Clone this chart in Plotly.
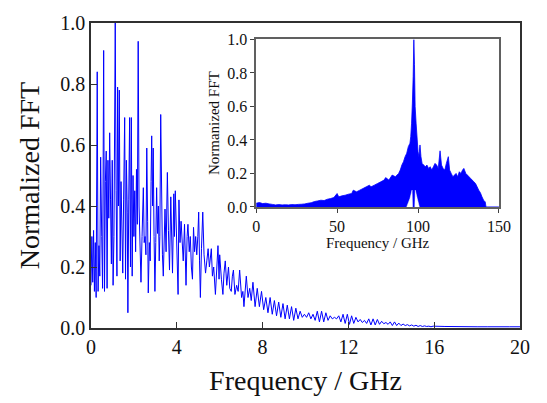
import plotly.graph_objects as go

# ---------------- main spectrum (0-20 GHz) ----------------
main_freq = [
    0.00, 0.04, 0.08, 0.12, 0.16, 0.20, 0.24, 0.29, 0.33, 0.37, 0.41, 0.45, 0.50, 0.54, 0.59, 0.63,
    0.67, 0.71, 0.75, 0.79, 0.83, 0.87, 0.91, 0.95, 0.99, 1.03, 1.07, 1.13, 1.17, 1.21, 1.24, 1.28,
    1.32, 1.36, 1.40, 1.44, 1.48, 1.52, 1.57, 1.61, 1.65, 1.69, 1.72, 1.76, 1.80, 1.84, 1.88, 1.92,
    1.96, 2.00, 2.04, 2.08, 2.12, 2.16, 2.20, 2.24, 2.28, 2.33, 2.38, 2.44, 2.48, 2.52, 2.56, 2.60,
    2.64, 2.67, 2.72, 2.76, 2.80, 2.83, 2.87, 2.90, 2.94, 2.98, 3.02, 3.06, 3.10, 3.14, 3.18, 3.21,
    3.25, 3.29, 3.33, 3.37, 3.41, 3.45, 3.50, 3.56, 3.61, 3.66, 3.72, 3.76, 3.80, 3.86, 3.89, 3.93,
    3.98, 4.03, 4.06, 4.10, 4.15, 4.20, 4.24, 4.30, 4.36, 4.43, 4.48, 4.52, 4.58, 4.63, 4.68, 4.73,
    4.78, 4.83, 4.88, 4.93, 4.98, 5.02, 5.06, 5.10, 5.15, 5.21, 5.27, 5.34, 5.40, 5.46, 5.52, 5.56,
    5.61, 5.66, 5.72, 5.80, 5.86, 5.92, 5.97, 6.00, 6.08, 6.15, 6.20, 6.26, 6.33, 6.41, 6.47, 6.54,
    6.59, 6.64, 6.71, 6.79, 6.86, 6.93, 7.02, 7.08, 7.13, 7.19, 7.24, 7.32, 7.40, 7.47, 7.55,
    7.65, 7.75, 7.85, 7.95, 8.05, 8.15, 8.25, 8.35, 8.45, 8.55, 8.65, 8.75, 8.85, 8.95,
    9.05, 9.15, 9.25, 9.35, 9.45, 9.55, 9.65, 9.75, 9.85, 9.95,
    10.05, 10.15, 10.25, 10.35, 10.45, 10.55, 10.65, 10.75, 10.85, 10.95,
    11.05, 11.15, 11.25, 11.35, 11.45, 11.55, 11.65, 11.75, 11.85, 11.95,
    12.05, 12.15, 12.25, 12.35, 12.45, 12.55, 12.65, 12.75, 12.85, 12.95,
    13.05, 13.15, 13.25, 13.35, 13.45, 13.55, 13.65, 13.75, 13.85, 13.95,
    14.05, 14.15, 14.25, 14.35, 14.45, 14.55, 14.65, 14.75, 14.85, 14.95,
    15.05, 15.15, 15.25, 15.35, 15.45, 15.55, 15.65, 15.75, 15.85, 15.95,
    16.5, 17.0, 17.5, 18.0, 18.5, 19.0, 19.5, 20.0,
]
main_fft = [
    0.14, 0.30, 0.15, 0.32, 0.12, 0.28, 0.10, 0.84, 0.12, 0.27, 0.17, 0.56, 0.30, 0.13, 0.91, 0.12,
    0.48, 0.58, 0.13, 0.55, 0.36, 0.64, 0.42, 0.21, 0.55, 0.14, 0.30, 1.00, 0.45, 0.17, 0.79, 0.40,
    0.78, 0.22, 0.48, 0.31, 0.18, 0.42, 0.69, 0.16, 0.55, 0.38, 0.05, 0.42, 0.69, 0.20, 0.69, 0.17,
    0.50, 0.30, 0.45, 0.25, 0.52, 0.34, 0.94, 0.40, 0.22, 0.15, 0.30, 0.46, 0.28, 0.30, 0.24, 0.59,
    0.35, 0.115, 0.28, 0.22, 0.48, 0.63, 0.40, 0.59, 0.30, 0.12, 0.28, 0.46, 0.31, 0.40, 0.22, 0.30,
    0.70, 0.38, 0.24, 0.17, 0.30, 0.39, 0.25, 0.51, 0.32, 0.19, 0.43, 0.28, 0.18, 0.44, 0.30, 0.45,
    0.28, 0.22, 0.11, 0.42, 0.28, 0.35, 0.31, 0.22, 0.34, 0.14, 0.30, 0.34, 0.25, 0.30, 0.20, 0.16,
    0.33, 0.25, 0.30, 0.24, 0.30, 0.38, 0.22, 0.10, 0.26, 0.38, 0.24, 0.18, 0.22, 0.26, 0.20, 0.24,
    0.26, 0.17, 0.20, 0.11, 0.20, 0.27, 0.16, 0.24, 0.16, 0.11, 0.18, 0.22, 0.14, 0.20, 0.13, 0.12,
    0.17, 0.19, 0.11, 0.14, 0.12, 0.19, 0.10, 0.12, 0.07, 0.14, 0.17, 0.10, 0.13, 0.09, 0.15,
    0.07, 0.13, 0.07, 0.12, 0.06, 0.10, 0.05, 0.10, 0.045, 0.09, 0.04, 0.085, 0.035, 0.08,
    0.03, 0.075, 0.03, 0.07, 0.025, 0.065, 0.03, 0.055, 0.035, 0.045,
    0.035, 0.05, 0.03, 0.045, 0.025, 0.055, 0.02, 0.055, 0.02, 0.05,
    0.025, 0.04, 0.03, 0.035, 0.03, 0.04, 0.02, 0.045, 0.015, 0.045,
    0.012, 0.04, 0.015, 0.035, 0.02, 0.028, 0.018, 0.025, 0.015, 0.03,
    0.01, 0.03, 0.01, 0.028, 0.012, 0.022, 0.014, 0.018, 0.012, 0.02,
    0.008, 0.02, 0.008, 0.016, 0.008, 0.013, 0.008, 0.011, 0.007, 0.01,
    0.006, 0.009, 0.005, 0.008, 0.005, 0.007, 0.005, 0.006, 0.004, 0.006,
    0.005, 0.004, 0.005, 0.004, 0.004, 0.005, 0.004, 0.004,
]

# ---------------- inset spectrum (0-150 GHz) ----------------
# upper envelope of the densely oscillating spectrum
inset_upper_freq = [
    0, 2, 4, 6, 8, 10, 12, 14, 16, 18, 20, 22, 24, 26, 28, 30, 32, 34, 36, 38, 40, 42, 44, 46, 48,
    50, 51, 53, 55, 57, 59, 60, 62, 64, 66, 68, 70, 71, 73, 75, 77, 79, 80, 82, 84, 86, 88, 89,
    90, 91, 92, 93, 94, 95, 95.5, 96, 96.5, 97, 97.4, 97.8, 98.2, 98.8, 99.5, 100, 100.5, 101.2,
    101.8, 102.5, 103.5, 104.5, 105.5, 106.5, 107.5, 108.5, 109.5, 110.5, 111.5, 112.5, 113.6,
    114.5, 115.5, 116.5, 117.5, 118.7, 119.5, 120.5, 121.5, 122.5, 123.5, 124.5, 125.5, 126.5,
    127.5, 128.3, 129.5, 130.5, 131.5, 132.5, 133.5, 134.5, 135.5, 136.5, 137.5, 138.5, 139.5,
    140.5, 141.5, 142, 150,
]
inset_upper_fft = [
    0.022, 0.026, 0.02, 0.022, 0.018, 0.015, 0.012, 0.014, 0.012, 0.013, 0.012, 0.014, 0.013, 0.015,
    0.016, 0.018, 0.022, 0.025, 0.032, 0.036, 0.04, 0.038, 0.046, 0.05, 0.056,
    0.08, 0.06, 0.066, 0.07, 0.076, 0.08, 0.10, 0.09, 0.10, 0.11, 0.12, 0.13, 0.12, 0.13, 0.14,
    0.15, 0.16, 0.175, 0.16, 0.19, 0.18, 0.20, 0.22,
    0.25, 0.27, 0.30, 0.32, 0.36, 0.38, 0.42, 0.50, 0.62, 0.78, 1.00, 0.85, 0.60, 0.50, 0.40,
    0.33, 0.30, 0.37,
    0.30, 0.26, 0.25, 0.24, 0.25, 0.23, 0.24, 0.22, 0.24, 0.26, 0.25, 0.23, 0.335,
    0.25, 0.23, 0.22, 0.26, 0.30, 0.22, 0.20, 0.18, 0.19, 0.20, 0.18, 0.21, 0.20,
    0.22, 0.23, 0.20, 0.19, 0.18, 0.17, 0.16, 0.15, 0.14, 0.12, 0.10, 0.085, 0.06,
    0.04, 0.03, 0.0, 0.0,
]
# lower envelope lifts off zero on either side of the main peak (two empty humps)
hole_left_freq = [93.0, 95.0, 96.3, 96.6]
hole_left_fft = [0.0, 0.05, 0.10, 0.0]
hole_right_freq = [98.0, 98.3, 99.5, 100.8]
hole_right_fft = [0.0, 0.10, 0.05, 0.0]

x_ticks_main = [0, 4, 8, 12, 16, 20]
y_ticks = [0.0, 0.2, 0.4, 0.6, 0.8, 1.0]
x_ticks_inset = [0, 50, 100, 150]

BLUE = "#0000ff"
FONT = "Liberation Serif"

fig = go.Figure()
fig.add_trace(go.Scatter(x=main_freq, y=main_fft, mode="lines",
                         line=dict(color=BLUE, width=1), showlegend=False,
                         xaxis="x", yaxis="y"))
fig.add_trace(go.Scatter(x=inset_upper_freq, y=inset_upper_fft, mode="lines", fill="tozeroy",
                         fillcolor=BLUE, line=dict(color=BLUE, width=0.8, simplify=False),
                         showlegend=False, xaxis="x2", yaxis="y2"))
for hx, hy in ((hole_left_freq, hole_left_fft), (hole_right_freq, hole_right_fft)):
    fig.add_trace(go.Scatter(x=hx, y=hy, mode="lines", fill="toself", fillcolor="white",
                             line=dict(color="white", width=0.5, simplify=False),
                             showlegend=False, xaxis="x2", yaxis="y2"))

axis_main = dict(showgrid=False, zeroline=False, showline=True, mirror=True,
                 linecolor="#303030", linewidth=1.5, ticks="inside", ticklen=6,
                 tickwidth=1.2, tickcolor="#303030",
                 tickfont=dict(family=FONT, size=20, color="#111"))
axis_inset = dict(showgrid=False, zeroline=False, showline=True, mirror=True,
                  linecolor="#606060", linewidth=1.5, ticks="outside", ticklen=4,
                  tickwidth=1, tickcolor="#404040",
                  tickfont=dict(family=FONT, size=16, color="#111"))

fig.update_layout(
    width=547, height=403,
    margin=dict(l=91, r=27, t=13, b=75),
    paper_bgcolor="white", plot_bgcolor="white",
    xaxis=dict(axis_main, domain=[0, 1], range=[0, 20], tickvals=x_ticks_main,
               title=dict(text="Frequency / GHz", font=dict(family=FONT, size=28, color="#111"),
                          standoff=14)),
    yaxis=dict(axis_main, domain=[0, 1], range=[0, 1], tickvals=y_ticks, tickformat=".1f",
               title=dict(text="Normalized FFT", font=dict(family=FONT, size=28, color="#111"),
                          standoff=12)),
    xaxis2=dict(axis_inset, domain=[0.385, 0.951], range=[0, 150], tickvals=x_ticks_inset,
                anchor="y2",
                title=dict(text="Frequency / GHz", font=dict(family=FONT, size=15, color="#111"),
                           standoff=0)),
    yaxis2=dict(axis_inset, domain=[0.397, 0.946], range=[0, 1], tickvals=y_ticks,
                tickformat=".1f", anchor="x2",
                title=dict(text="Normanized FFT", font=dict(family=FONT, size=15, color="#111"),
                           standoff=4)),
)

fig.write_html("out.html")
